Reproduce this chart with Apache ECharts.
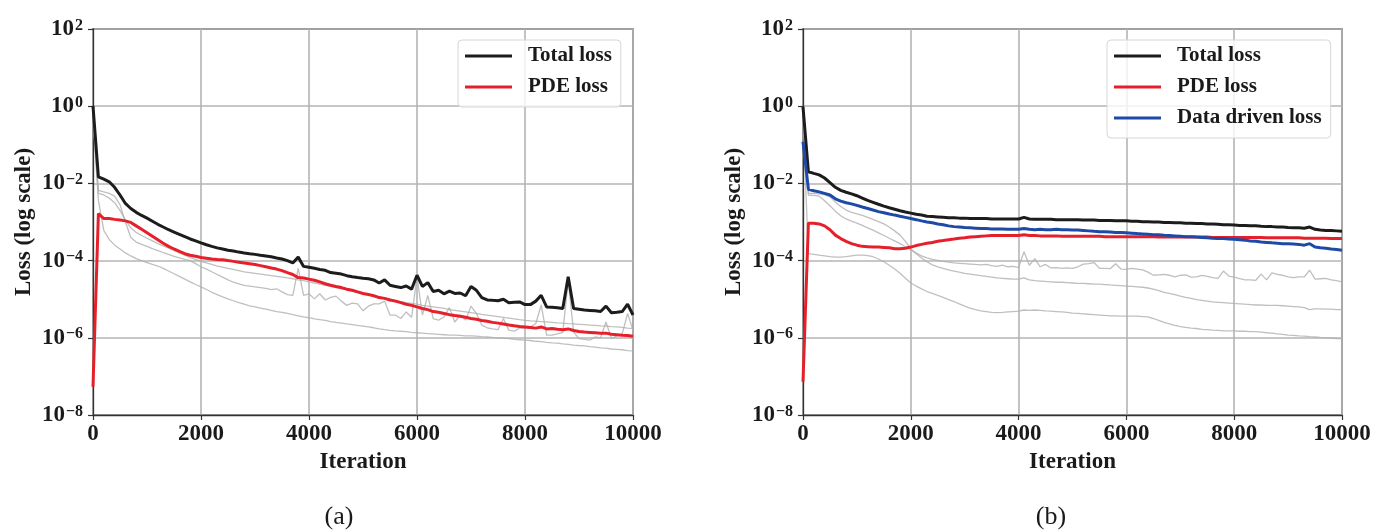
<!DOCTYPE html>
<html>
<head>
<meta charset="utf-8">
<script src="https://cdn.jsdelivr.net/npm/echarts@6/dist/echarts.min.js"></script>
<style>html,body{margin:0;padding:0;background:#fff}#c{width:1376px;height:532px}</style>
</head>
<body>
<div id="c"></div>
<script>
const iterations = [0,100,200,300,400,500,600,700,800,900,1000,1100,1200,1300,1400,1500,1600,1700,1800,1900,2000,2100,2200,2300,2400,2500,2600,2700,2800,2900,3000,3100,3200,3300,3400,3500,3600,3700,3800,3900,4000,4100,4200,4300,4400,4500,4600,4700,4800,4900,5000,5100,5200,5300,5400,5500,5600,5700,5800,5900,6000,6100,6200,6300,6400,6500,6600,6700,6800,6900,7000,7100,7200,7300,7400,7500,7600,7700,7800,7900,8000,8100,8200,8300,8400,8500,8600,8700,8800,8900,9000,9100,9200,9300,9400,9500,9600,9700,9800,9900,10000];
const xTicks = [0,2000,4000,6000,8000,10000];
const yTickExponents = [-8,-6,-4,-2,0,2];
const legendA = ['Total loss','PDE loss'];
const legendB = ['Total loss','PDE loss','Data driven loss'];
const captions = ['(a)','(b)'];

// ---- panel (a) ----
const aTotal = [1,1.48e-2,1.29e-2,1.1e-2,7.94e-3,5.01e-3,3.02e-3,2.24e-3,1.78e-3,1.48e-3,1.26e-3,1.05e-3,8.71e-4,7.41e-4,6.31e-4,5.5e-4,4.79e-4,4.17e-4,3.63e-4,3.24e-4,2.88e-4,2.57e-4,2.34e-4,2.14e-4,2.0e-4,1.86e-4,1.78e-4,1.66e-4,1.58e-4,1.51e-4,1.45e-4,1.38e-4,1.32e-4,1.26e-4,1.17e-4,1.1e-4,1e-4,8.71e-5,1.23e-4,7.08e-5,6.76e-5,6.31e-5,5.89e-5,5.62e-5,4.9e-5,4.68e-5,4.47e-5,4.07e-5,3.8e-5,3.63e-5,3.47e-5,3.39e-5,3.16e-5,2.63e-5,3.16e-5,2.29e-5,2.14e-5,2.0e-5,2.19e-5,1.82e-5,4.17e-5,2.14e-5,2.69e-5,1.58e-5,1.7e-5,1.38e-5,1.62e-5,1.41e-5,1.45e-5,1.23e-5,2.14e-5,1.7e-5,1.1e-5,9.55e-6,9.33e-6,9.12e-6,1e-5,8.13e-6,8.32e-6,8.51e-6,7.24e-6,7.24e-6,8.91e-6,1.26e-5,6.31e-6,6.17e-6,6.03e-6,5.75e-6,3.8e-5,5.75e-6,5.5e-6,5.25e-6,5.13e-6,5.01e-6,4.79e-6,6.61e-6,4.47e-6,4.57e-6,4.79e-6,7.41e-6,3.89e-6];
const aPde = [5.37e-8,1.66e-3,1.23e-3,1.23e-3,1.17e-3,1.12e-3,1.07e-3,9.77e-4,7.94e-4,6.46e-4,5.25e-4,4.27e-4,3.47e-4,2.82e-4,2.34e-4,2.0e-4,1.74e-4,1.51e-4,1.38e-4,1.29e-4,1.2e-4,1.15e-4,1.1e-4,1.07e-4,1.05e-4,1e-4,9.55e-5,9.12e-5,8.71e-5,8.32e-5,7.94e-5,7.41e-5,6.92e-5,6.46e-5,6.03e-5,5.5e-5,4.9e-5,4.37e-5,3.63e-5,3.55e-5,3.31e-5,3.09e-5,2.82e-5,2.51e-5,2.29e-5,2.14e-5,2.0e-5,1.82e-5,1.7e-5,1.55e-5,1.41e-5,1.32e-5,1.23e-5,1.1e-5,1.05e-5,9.55e-6,8.91e-6,8.13e-6,7.41e-6,6.92e-6,6.31e-6,5.75e-6,5.37e-6,4.79e-6,4.57e-6,4.27e-6,3.98e-6,3.8e-6,3.63e-6,3.39e-6,3.16e-6,3.02e-6,2.82e-6,2.69e-6,2.51e-6,2.4e-6,2.29e-6,2.14e-6,2.04e-6,1.95e-6,1.91e-6,1.86e-6,1.78e-6,1.91e-6,1.7e-6,1.74e-6,1.66e-6,1.62e-6,1.7e-6,1.55e-6,1.45e-6,1.41e-6,1.38e-6,1.35e-6,1.32e-6,1.32e-6,1.23e-6,1.2e-6,1.17e-6,1.15e-6,1.1e-6];
const aGrayUpper = [5.01e-1,5.5e-3,5.01e-3,4.17e-3,3.16e-3,2.0e-3,1.12e-3,7.08e-4,5.37e-4,4.47e-4,3.8e-4,3.24e-4,2.75e-4,2.4e-4,2.09e-4,1.82e-4,1.58e-4,1.38e-4,1.2e-4,1.07e-4,9.55e-5,8.71e-5,7.94e-5,7.24e-5,6.76e-5,6.31e-5,5.89e-5,5.5e-5,5.13e-5,4.9e-5,4.68e-5,4.47e-5,4.27e-5,4.07e-5,3.89e-5,3.72e-5,3.55e-5,3.39e-5,3.16e-5,3.02e-5,2.82e-5,2.63e-5,2.45e-5,2.29e-5,2.14e-5,2.0e-5,1.86e-5,1.74e-5,1.62e-5,1.51e-5,1.41e-5,1.32e-5,1.23e-5,1.15e-5,1.07e-5,1e-5,9.33e-6,8.71e-6,8.13e-6,7.76e-6,7.41e-6,6.92e-6,6.61e-6,6.31e-6,6.03e-6,5.75e-6,5.37e-6,5.13e-6,4.9e-6,4.68e-6,4.47e-6,4.27e-6,4.07e-6,3.89e-6,3.72e-6,3.55e-6,3.39e-6,3.24e-6,3.09e-6,2.95e-6,2.82e-6,2.75e-6,2.69e-6,2.63e-6,2.57e-6,2.51e-6,2.45e-6,2.4e-6,2.34e-6,2.29e-6,2.24e-6,2.19e-6,2.14e-6,2.09e-6,2.04e-6,2.0e-6,1.95e-6,1.91e-6,1.86e-6,1.78e-6,1.74e-6];
const aGrayNoisy = [5.01e-1,6.61e-3,6.03e-3,5.5e-3,4.68e-3,2.82e-3,1e-3,3.98e-4,3.02e-4,2.63e-4,2.34e-4,2.04e-4,1.82e-4,1.62e-4,1.45e-4,1.29e-4,1.17e-4,1.07e-4,1e-4,8.32e-5,6.92e-5,6.03e-5,5.13e-5,4.37e-5,3.72e-5,3.16e-5,2.75e-5,2.51e-5,2.29e-5,2.19e-5,2.09e-5,2.0e-5,1.91e-5,1.78e-5,1.86e-5,1.55e-5,1.32e-5,1.26e-5,6.31e-5,1.26e-5,1.38e-5,1.02e-5,1.38e-5,9.55e-6,1.12e-5,1.2e-5,8.91e-6,6.92e-6,7.94e-6,7.59e-6,5.01e-6,6.61e-6,7.59e-6,7.59e-6,8.91e-6,3.89e-6,3.89e-6,3.16e-6,4.68e-6,3.39e-6,3.8e-5,3.89e-6,1.26e-5,3.16e-6,2.88e-6,3.47e-6,6.03e-6,2.57e-6,3.89e-6,2.88e-6,6.61e-6,4.27e-6,2.14e-6,1.82e-6,1.7e-6,1.62e-6,3.16e-6,1.58e-6,1.48e-6,1.78e-6,1.78e-6,1.91e-6,2.34e-6,7.08e-6,1.17e-6,1.17e-6,1.26e-6,1.38e-6,3.09e-5,1.41e-6,9.55e-7,9.12e-7,8.71e-7,1.05e-6,1e-6,2.57e-6,9.55e-7,1.12e-6,1.26e-6,4.27e-6,1.58e-6];
const aGrayLow = [5.01e-1,3.63e-3,6.03e-4,3.55e-4,2.51e-4,2.0e-4,1.58e-4,1.32e-4,1.12e-4,1e-4,8.91e-5,7.94e-5,7.24e-5,6.31e-5,5.37e-5,4.57e-5,3.89e-5,3.31e-5,2.82e-5,2.4e-5,2.09e-5,1.78e-5,1.51e-5,1.32e-5,1.15e-5,1.02e-5,9.12e-6,8.13e-6,7.41e-6,6.76e-6,6.31e-6,5.89e-6,5.5e-6,5.13e-6,4.79e-6,4.57e-6,4.27e-6,3.98e-6,3.72e-6,3.47e-6,3.31e-6,3.09e-6,2.95e-6,2.82e-6,2.63e-6,2.51e-6,2.4e-6,2.29e-6,2.19e-6,2.09e-6,2.0e-6,1.91e-6,1.82e-6,1.7e-6,1.62e-6,1.55e-6,1.51e-6,1.48e-6,1.45e-6,1.38e-6,1.35e-6,1.32e-6,1.29e-6,1.26e-6,1.23e-6,1.2e-6,1.17e-6,1.17e-6,1.15e-6,1.12e-6,1.12e-6,1.1e-6,1.07e-6,1.05e-6,1.02e-6,1e-6,9.77e-7,9.55e-7,9.12e-7,8.91e-7,8.71e-7,8.51e-7,8.13e-7,7.94e-7,7.59e-7,7.41e-7,7.24e-7,6.92e-7,6.76e-7,6.46e-7,6.31e-7,6.17e-7,5.89e-7,5.75e-7,5.5e-7,5.37e-7,5.13e-7,5.01e-7,4.9e-7,4.68e-7,4.57e-7];

// ---- panel (b) ----
const bTotal = [9.55e-1,2.0e-2,1.82e-2,1.66e-2,1.38e-2,1.05e-2,7.94e-3,6.61e-3,5.89e-3,5.37e-3,4.79e-3,4.17e-3,3.63e-3,3.24e-3,2.88e-3,2.57e-3,2.34e-3,2.14e-3,1.95e-3,1.82e-3,1.7e-3,1.58e-3,1.51e-3,1.41e-3,1.38e-3,1.35e-3,1.32e-3,1.29e-3,1.29e-3,1.26e-3,1.26e-3,1.23e-3,1.23e-3,1.23e-3,1.23e-3,1.2e-3,1.2e-3,1.2e-3,1.2e-3,1.2e-3,1.2e-3,1.32e-3,1.2e-3,1.17e-3,1.17e-3,1.17e-3,1.17e-3,1.15e-3,1.15e-3,1.15e-3,1.15e-3,1.15e-3,1.12e-3,1.12e-3,1.12e-3,1.1e-3,1.1e-3,1.1e-3,1.07e-3,1.07e-3,1.07e-3,1.05e-3,1.05e-3,1.02e-3,1.02e-3,1e-3,1e-3,9.77e-4,9.77e-4,9.55e-4,9.55e-4,9.33e-4,9.33e-4,9.12e-4,9.12e-4,8.91e-4,8.91e-4,8.71e-4,8.51e-4,8.51e-4,8.32e-4,8.13e-4,8.13e-4,7.94e-4,7.94e-4,7.76e-4,7.59e-4,7.59e-4,7.41e-4,7.41e-4,7.24e-4,7.08e-4,7.08e-4,6.92e-4,7.41e-4,6.46e-4,6.17e-4,6.03e-4,6.03e-4,5.89e-4,5.75e-4];
const bPde = [7.24e-8,9.33e-4,9.33e-4,8.91e-4,7.94e-4,6.31e-4,4.57e-4,3.72e-4,3.16e-4,2.75e-4,2.51e-4,2.34e-4,2.29e-4,2.24e-4,2.24e-4,2.19e-4,2.14e-4,2.04e-4,2.04e-4,2.09e-4,2.24e-4,2.45e-4,2.63e-4,2.82e-4,2.95e-4,3.16e-4,3.31e-4,3.47e-4,3.63e-4,3.8e-4,3.89e-4,4.07e-4,4.17e-4,4.27e-4,4.37e-4,4.47e-4,4.47e-4,4.47e-4,4.47e-4,4.47e-4,4.47e-4,4.68e-4,4.47e-4,4.47e-4,4.37e-4,4.37e-4,4.37e-4,4.37e-4,4.27e-4,4.27e-4,4.27e-4,4.27e-4,4.27e-4,4.27e-4,4.27e-4,4.27e-4,4.17e-4,4.17e-4,4.17e-4,4.17e-4,4.17e-4,4.17e-4,4.17e-4,4.17e-4,4.17e-4,4.17e-4,4.07e-4,4.07e-4,4.07e-4,4.07e-4,4.07e-4,4.07e-4,4.07e-4,4.07e-4,4.07e-4,4.07e-4,3.98e-4,3.98e-4,3.98e-4,3.98e-4,3.98e-4,3.98e-4,3.98e-4,3.98e-4,3.98e-4,3.98e-4,3.89e-4,3.89e-4,3.89e-4,3.89e-4,3.89e-4,3.89e-4,3.89e-4,3.8e-4,3.8e-4,3.8e-4,3.8e-4,3.8e-4,3.72e-4,3.72e-4,3.72e-4];
const bData = [1.2e-1,7.08e-3,6.46e-3,6.03e-3,5.5e-3,5.01e-3,3.98e-3,3.47e-3,3.16e-3,2.95e-3,2.69e-3,2.45e-3,2.24e-3,2.04e-3,1.86e-3,1.74e-3,1.62e-3,1.51e-3,1.41e-3,1.32e-3,1.23e-3,1.15e-3,1.07e-3,1e-3,9.55e-4,8.91e-4,8.51e-4,7.94e-4,7.59e-4,7.41e-4,7.24e-4,7.08e-4,6.92e-4,6.76e-4,6.76e-4,6.61e-4,6.61e-4,6.61e-4,6.46e-4,6.46e-4,6.46e-4,6.76e-4,6.46e-4,6.31e-4,6.46e-4,6.31e-4,6.31e-4,6.46e-4,6.31e-4,6.31e-4,6.17e-4,6.17e-4,6.03e-4,5.89e-4,5.75e-4,5.62e-4,5.62e-4,5.5e-4,5.37e-4,5.37e-4,5.25e-4,5.13e-4,5.01e-4,4.9e-4,4.79e-4,4.68e-4,4.68e-4,4.57e-4,4.47e-4,4.37e-4,4.27e-4,4.17e-4,4.17e-4,4.07e-4,3.98e-4,3.89e-4,3.8e-4,3.72e-4,3.72e-4,3.63e-4,3.55e-4,3.47e-4,3.39e-4,3.24e-4,3.16e-4,3.02e-4,2.95e-4,2.88e-4,2.82e-4,2.75e-4,2.75e-4,2.69e-4,2.63e-4,2.51e-4,2.75e-4,2.24e-4,2.14e-4,2.09e-4,2.0e-4,1.95e-4,1.86e-4];
const bGrayNoisy = [5.01e-1,5.5e-3,5.5e-3,5.37e-3,5.01e-3,4.47e-3,3.31e-3,2.51e-3,2.04e-3,1.78e-3,1.62e-3,1.48e-3,1.32e-3,1.17e-3,1.02e-3,8.91e-4,7.41e-4,5.89e-4,4.57e-4,3.16e-4,2.0e-4,1.58e-4,1.32e-4,1.17e-4,1.07e-4,1.02e-4,9.55e-5,9.12e-5,8.71e-5,8.51e-5,8.32e-5,8.13e-5,7.94e-5,7.76e-5,7.94e-5,7.41e-5,7.08e-5,7.59e-5,6.92e-5,7.08e-5,6.61e-5,1.7e-4,7.59e-5,1.12e-4,6.92e-5,7.94e-5,6.46e-5,6.61e-5,6.31e-5,6.46e-5,6.31e-5,6.92e-5,8.13e-5,8.32e-5,8.91e-5,6.31e-5,6.31e-5,6.17e-5,8.32e-5,6.03e-5,5.89e-5,6.31e-5,6.03e-5,5.75e-5,5.01e-5,4.17e-5,4.27e-5,4.37e-5,4.17e-5,3.8e-5,4.17e-5,4.27e-5,3.72e-5,3.8e-5,4.17e-5,3.89e-5,3.63e-5,3.47e-5,5.37e-5,3.98e-5,3.72e-5,3.39e-5,3.16e-5,3.16e-5,3.09e-5,4.47e-5,3.16e-5,4.79e-5,4.37e-5,4.17e-5,3.8e-5,3.63e-5,3.8e-5,3.8e-5,5.62e-5,3.31e-5,3.39e-5,3.47e-5,3.16e-5,3.02e-5,2.82e-5];
const bGrayMid = [5.01e-1,5.01e-3,4.9e-3,4.68e-3,3.55e-3,2.63e-3,1.91e-3,1.45e-3,1.2e-3,1.05e-3,9.33e-4,8.13e-4,7.08e-4,6.17e-4,5.25e-4,4.47e-4,3.8e-4,3.24e-4,2.75e-4,2.29e-4,1.91e-4,1.51e-4,1.17e-4,9.33e-5,7.76e-5,6.92e-5,6.31e-5,5.75e-5,5.37e-5,5.01e-5,4.68e-5,4.47e-5,4.27e-5,4.07e-5,3.89e-5,3.72e-5,3.55e-5,3.47e-5,3.39e-5,3.31e-5,3.31e-5,3.55e-5,3.16e-5,3.02e-5,2.95e-5,2.88e-5,2.82e-5,2.75e-5,2.75e-5,2.69e-5,2.63e-5,2.57e-5,2.57e-5,2.51e-5,2.45e-5,2.45e-5,2.4e-5,2.34e-5,2.29e-5,2.24e-5,2.19e-5,2.14e-5,2.09e-5,2.04e-5,1.95e-5,1.82e-5,1.66e-5,1.51e-5,1.41e-5,1.32e-5,1.2e-5,1.12e-5,1.05e-5,9.77e-6,9.33e-6,8.91e-6,8.51e-6,8.32e-6,8.13e-6,7.94e-6,7.76e-6,7.59e-6,7.41e-6,7.24e-6,7.08e-6,7.08e-6,6.92e-6,6.92e-6,6.92e-6,6.76e-6,6.61e-6,6.46e-6,6.31e-6,6.03e-6,5.37e-6,5.62e-6,5.62e-6,5.5e-6,5.5e-6,5.37e-6,5.37e-6];
const bGrayLow = [5.01e-1,1.51e-4,1.45e-4,1.38e-4,1.32e-4,1.26e-4,1.23e-4,1.23e-4,1.26e-4,1.32e-4,1.38e-4,1.38e-4,1.35e-4,1.26e-4,1.1e-4,9.33e-5,7.59e-5,6.03e-5,4.68e-5,3.47e-5,2.63e-5,2.19e-5,1.86e-5,1.58e-5,1.41e-5,1.26e-5,1.12e-5,9.77e-6,8.71e-6,7.59e-6,6.61e-6,5.89e-6,5.37e-6,5.01e-6,4.79e-6,4.57e-6,4.47e-6,4.57e-6,4.68e-6,4.79e-6,4.9e-6,5.25e-6,5.13e-6,5.25e-6,5.13e-6,5.01e-6,4.9e-6,4.79e-6,4.68e-6,4.57e-6,4.37e-6,4.27e-6,4.17e-6,4.07e-6,3.98e-6,3.89e-6,3.8e-6,3.72e-6,3.72e-6,3.63e-6,3.63e-6,3.63e-6,3.63e-6,3.55e-6,3.47e-6,3.16e-6,2.82e-6,2.51e-6,2.29e-6,2.09e-6,1.95e-6,1.86e-6,1.78e-6,1.74e-6,1.66e-6,1.62e-6,1.58e-6,1.55e-6,1.51e-6,1.51e-6,1.51e-6,1.48e-6,1.48e-6,1.45e-6,1.45e-6,1.41e-6,1.35e-6,1.32e-6,1.26e-6,1.23e-6,1.17e-6,1.15e-6,1.12e-6,1.1e-6,1.07e-6,1.05e-6,1.02e-6,1e-6,9.77e-7,9.55e-7,9.55e-7];

const FONT = 'Liberation Serif';
const C_BLACK = '#1c1c1c', C_RED = '#e6202b', C_BLUE = '#1d4aa6', C_GRAY = 'rgba(175,175,175,0.8)';
const pair = arr => iterations.map((x, i) => [x, arr[i]]);

const grids = [
  {left: 93, top: 29, width: 540, height: 386},
  {left: 803, top: 29, width: 539, height: 386}
];

function xAxis(i) {
  return {
    type: 'value', gridIndex: i, min: xTicks[0], max: xTicks[xTicks.length - 1], interval: xTicks[1] - xTicks[0],
    name: 'Iteration', nameLocation: 'middle', nameGap: 36,
    nameTextStyle: {fontFamily: FONT, fontWeight: 'bold', fontSize: 23, color: '#1a1a1a'},
    axisLine: {show: true, lineStyle: {color: '#333', width: 1.3}},
    axisTick: {show: true, length: 5, lineStyle: {color: '#333', width: 1.2}},
    axisLabel: {fontFamily: FONT, fontWeight: 'bold', fontSize: 23, color: '#1a1a1a', margin: 8, formatter: v => String(v)},
    splitLine: {show: true, lineStyle: {color: '#b4b4b4', width: 1.6}}
  };
}
function yAxis(i) {
  return {
    type: 'log', logBase: 10, gridIndex: i,
    min: Math.pow(10, yTickExponents[0]), max: Math.pow(10, yTickExponents[yTickExponents.length - 1]),
    interval: yTickExponents[1] - yTickExponents[0],
    name: 'Loss (log scale)', nameLocation: 'middle', nameGap: 57,
    nameTextStyle: {fontFamily: FONT, fontWeight: 'bold', fontSize: 23, color: '#1a1a1a'},
    axisLine: {show: true, lineStyle: {color: '#333', width: 1.3}},
    axisTick: {show: true, length: 5, lineStyle: {color: '#333', width: 1.2}},
    minorTick: {show: false},
    axisLabel: {
      margin: 10,
      formatter: v => {
        const e = Math.round(Math.log10(v));
        return '{b|10}{s|' + (e < 0 ? '\u2212' : '') + Math.abs(e) + '}';
      },
      rich: {
        b: {fontFamily: FONT, fontWeight: 'bold', fontSize: 23, color: '#1a1a1a', lineHeight: 23, verticalAlign: 'bottom'},
        s: {fontFamily: FONT, fontWeight: 'bold', fontSize: 16, color: '#1a1a1a', lineHeight: 16, verticalAlign: 'top', padding: [0, 0, 15, 1]}
      }
    },
    splitLine: {show: true, lineStyle: {color: '#b4b4b4', width: 1.6}}
  };
}
function line(name, data, i, color, width, z) {
  return {
    type: 'line', name: name, xAxisIndex: i, yAxisIndex: i, data: pair(data),
    showSymbol: false, symbol: 'none', z: z,
    lineStyle: {color: color, width: width}, itemStyle: {color: color},
    emphasis: {disabled: true}
  };
}
function legend(data, left, top) {
  return {
    data: data, left: left, top: top, orient: 'vertical', selectedMode: false,
    icon: 'rect', itemWidth: 47, itemHeight: 3, itemGap: 9, padding: [5, 9, 9, 7],
    borderColor: '#d6d6d6', borderWidth: 1, borderRadius: 4, backgroundColor: 'rgba(255,255,255,0.8)',
    textStyle: {fontFamily: FONT, fontWeight: 'bold', fontSize: 21, color: '#1a1a1a', padding: [0, 0, 0, 11], lineHeight: 22}
  };
}

const option = {
  animation: false,
  backgroundColor: '#fff',
  grid: grids.map(g => Object.assign({show: true, borderColor: '#333', borderWidth: 1.3, backgroundColor: 'transparent'}, g)),
  xAxis: [xAxis(0), xAxis(1)],
  yAxis: [yAxis(0), yAxis(1)],
  legend: [legend(legendA, 458, 40), legend(legendB, 1107, 40)],
  series: [
    line('g1', aGrayUpper, 0, C_GRAY, 1.3, 1),
    line('g2', aGrayNoisy, 0, C_GRAY, 1.3, 1),
    line('g3', aGrayLow, 0, C_GRAY, 1.3, 1),
    line(legendA[0], aTotal, 0, C_BLACK, 3, 3),
    line(legendA[1], aPde, 0, C_RED, 3, 3),
    line('g4', bGrayNoisy, 1, C_GRAY, 1.3, 1),
    line('g5', bGrayMid, 1, C_GRAY, 1.3, 1),
    line('g6', bGrayLow, 1, C_GRAY, 1.3, 1),
    line(legendB[0], bTotal, 1, C_BLACK, 3, 3),
    line(legendB[1], bPde, 1, C_RED, 3, 3),
    line(legendB[2], bData, 1, C_BLUE, 3, 3)
  ],
  graphic: [
    {type: 'text', x: 339, y: 517, style: {text: captions[0], font: '26px "Liberation Serif"', fill: '#1a1a1a', align: 'center', verticalAlign: 'middle'}},
    {type: 'text', x: 1051, y: 517, style: {text: captions[1], font: '26px "Liberation Serif"', fill: '#1a1a1a', align: 'center', verticalAlign: 'middle'}}
  ]
};
const chart = echarts.init(document.getElementById('c'), null, {renderer: 'canvas'});
chart.setOption(option);
</script>
</body>
</html>
